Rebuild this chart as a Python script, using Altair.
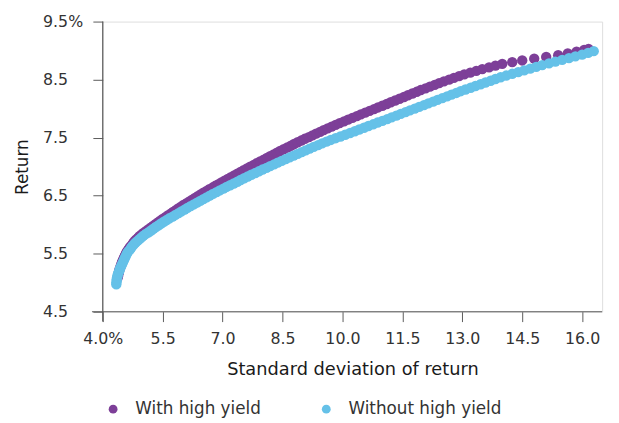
import altair as alt
import pandas as pd

# With high yield (purple): standard deviation and return
hy_sd = [4.37, 4.38, 4.39, 4.40, 4.41, 4.42, 4.44, 4.45, 4.47, 4.48, 4.50,
         4.52, 4.54, 4.56, 4.58, 4.60, 4.63, 4.66, 4.69, 4.73, 4.76, 4.79,
         4.83, 4.88, 4.92, 4.97, 5.02, 5.08, 5.14, 5.20, 5.26, 5.32, 5.38,
         5.44, 5.50, 5.57, 5.63, 5.70, 5.76, 5.83, 5.89, 5.96, 6.02, 6.10,
         6.17, 6.24, 6.31, 6.38, 6.45, 6.52, 6.60, 6.67, 6.75, 6.82, 6.90,
         6.97, 7.05, 7.13, 7.21, 7.29, 7.37, 7.45, 7.53, 7.61, 7.69, 7.78,
         7.86, 7.94, 8.03, 8.11, 8.19, 8.28, 8.36, 8.44, 8.53, 8.62, 8.71,
         8.79, 8.88, 8.97, 9.06, 9.16, 9.25, 9.34, 9.44, 9.53, 9.63, 9.73,
         9.83, 9.93, 10.04, 10.14, 10.25, 10.36, 10.46, 10.57, 10.68, 10.79,
         10.89, 11.00, 11.11, 11.21, 11.32, 11.43, 11.54, 11.64, 11.75, 11.86,
         11.96, 12.08, 12.19, 12.31, 12.42, 12.54, 12.67, 12.79, 12.92, 13.05,
         13.20, 13.35, 13.50, 13.67, 13.83, 14.00, 14.25, 14.50, 14.80, 15.10,
         15.40, 15.64, 15.86, 16.05, 16.16]
hy_ret = [5.08, 5.11, 5.14, 5.17, 5.20, 5.23, 5.26, 5.29, 5.32, 5.35, 5.38,
          5.41, 5.44, 5.47, 5.50, 5.53, 5.56, 5.59, 5.62, 5.65, 5.68, 5.71,
          5.74, 5.77, 5.80, 5.83, 5.86, 5.89, 5.92, 5.95, 5.98, 6.01, 6.04,
          6.07, 6.10, 6.13, 6.16, 6.19, 6.22, 6.25, 6.28, 6.31, 6.34, 6.37,
          6.40, 6.43, 6.46, 6.49, 6.52, 6.55, 6.58, 6.61, 6.64, 6.67, 6.70,
          6.73, 6.76, 6.79, 6.82, 6.85, 6.88, 6.91, 6.94, 6.97, 7.00, 7.03,
          7.06, 7.09, 7.12, 7.15, 7.18, 7.21, 7.24, 7.27, 7.30, 7.33, 7.36,
          7.39, 7.42, 7.45, 7.48, 7.51, 7.54, 7.57, 7.60, 7.63, 7.66, 7.69,
          7.72, 7.75, 7.78, 7.81, 7.84, 7.87, 7.90, 7.93, 7.96, 7.99,
          8.02, 8.05, 8.08, 8.11, 8.14, 8.17, 8.20, 8.23, 8.26, 8.29,
          8.32, 8.35, 8.38, 8.41, 8.44, 8.47, 8.50, 8.53, 8.56, 8.59,
          8.62, 8.65, 8.68, 8.71, 8.74, 8.77, 8.80, 8.83, 8.86, 8.89,
          8.92, 8.95, 8.98, 9.01, 9.03]

# Without high yield (light blue)
nohy_sd = [4.34, 4.34, 4.35, 4.35, 4.36, 4.37, 4.38, 4.40, 4.42, 4.43, 4.45,
           4.47, 4.49, 4.51, 4.53, 4.55, 4.57, 4.59, 4.61, 4.64, 4.68, 4.71,
           4.74, 4.78, 4.82, 4.87, 4.92, 4.97, 5.02, 5.08, 5.15, 5.21, 5.27,
           5.33, 5.40, 5.46, 5.53, 5.60, 5.67, 5.75, 5.82, 5.90, 5.97, 6.05,
           6.12, 6.20, 6.28, 6.36, 6.44, 6.52, 6.60, 6.68, 6.76, 6.85, 6.93,
           7.02, 7.10, 7.19, 7.28, 7.37, 7.45, 7.54, 7.63, 7.72, 7.82, 7.91,
           8.00, 8.10, 8.19, 8.29, 8.38, 8.48, 8.58, 8.68, 8.78, 8.88, 8.98,
           9.08, 9.18, 9.28, 9.39, 9.49, 9.60, 9.71, 9.83, 9.95, 10.07, 10.19,
           10.31, 10.42, 10.54, 10.65, 10.77, 10.88, 11.00, 11.12, 11.23, 11.35,
           11.46, 11.58, 11.69, 11.81, 11.92, 12.04, 12.15, 12.27, 12.38, 12.50,
           12.62, 12.73, 12.85, 12.96, 13.08, 13.21, 13.33, 13.46, 13.58, 13.71,
           13.83, 13.96, 14.10, 14.25, 14.40, 14.55, 14.70, 14.85, 15.00, 15.17,
           15.33, 15.50, 15.67, 15.83, 16.00, 16.15, 16.29]
nohy_ret = [4.97, 5.00, 5.03, 5.06, 5.09, 5.12, 5.15, 5.18, 5.21, 5.24, 5.27,
            5.30, 5.33, 5.36, 5.39, 5.42, 5.45, 5.48, 5.51, 5.54, 5.57, 5.60,
            5.63, 5.66, 5.69, 5.72, 5.75, 5.78, 5.81, 5.84, 5.87, 5.90, 5.93,
            5.96, 5.99, 6.02, 6.05, 6.08, 6.11, 6.14, 6.17, 6.20, 6.23, 6.26,
            6.29, 6.32, 6.35, 6.38, 6.41, 6.44, 6.47, 6.50, 6.53, 6.56, 6.59,
            6.62, 6.65, 6.68, 6.71, 6.74, 6.77, 6.80, 6.83, 6.86, 6.89, 6.92,
            6.95, 6.98, 7.01, 7.04, 7.07, 7.10, 7.13, 7.16, 7.19, 7.22, 7.25,
            7.28, 7.31, 7.34, 7.37, 7.40, 7.43, 7.46, 7.49, 7.52, 7.55, 7.58,
            7.61, 7.64, 7.67, 7.70, 7.73, 7.76, 7.79, 7.82, 7.85, 7.88,
            7.91, 7.94, 7.97, 8.00, 8.03, 8.06, 8.09, 8.12, 8.15, 8.18,
            8.21, 8.24, 8.27, 8.30, 8.33, 8.36, 8.39, 8.42, 8.45, 8.48,
            8.51, 8.54, 8.57, 8.60, 8.63, 8.66, 8.69, 8.72, 8.75, 8.78,
            8.81, 8.84, 8.87, 8.90, 8.93, 8.96, 8.99]

series_names = ["With high yield", "Without high yield"]
series_colors = ["#7d3f98", "#65c1e8"]

x_ticks = [4.0, 5.5, 7.0, 8.5, 10.0, 11.5, 13.0, 14.5, 16.0]
y_ticks = [4.5, 5.5, 6.5, 7.5, 8.5, 9.5]
x_domain = [4.0, 16.5]
y_domain = [4.5, 9.5]
# axis lines (drawn slightly past the crossing point, as in the original)
x_axis_line = {"x": 3.73, "x2": 16.5, "y": 4.5}
y_axis_line = {"x": 4.0, "y": 4.33, "y2": 9.5}

df = pd.concat([
    pd.DataFrame({"sd": hy_sd, "ret": hy_ret, "series": series_names[0], "order": 0}),
    pd.DataFrame({"sd": nohy_sd, "ret": nohy_ret, "series": series_names[1], "order": 1}),
], ignore_index=True)

FONT = "DejaVu Sans"
AXIS_COLOR = "#5a5a5a"

xscale = alt.Scale(domain=x_domain, nice=False, zero=False)
yscale = alt.Scale(domain=y_domain, nice=False, zero=False)

points = alt.Chart(df).mark_circle(size=110, opacity=1).encode(
    x=alt.X("sd:Q", scale=xscale,
            axis=alt.Axis(values=x_ticks, domain=False, tickSize=10, tickColor=AXIS_COLOR,
                          tickWidth=1, grid=False,
                          labelExpr="datum.value == 4 ? '4.0%' : format(datum.value, '.1f')",
                          labelFont=FONT, labelFontSize=16, labelColor="#333333",
                          labelPadding=9, labelFlush=False,
                          title="Standard deviation of return", titleFont=FONT,
                          titleFontSize=18, titleFontWeight="normal", titleColor="#1a1a1a",
                          titleX=253, titleY=59, titleBaseline="middle", titleAlign="center")),
    y=alt.Y("ret:Q", scale=yscale,
            axis=alt.Axis(values=y_ticks, domain=False, tickSize=10, tickColor=AXIS_COLOR,
                          tickWidth=1, grid=False,
                          labelExpr="datum.value == 9.5 ? '9.5%' : format(datum.value, '.1f')",
                          labelFont=FONT, labelFontSize=16, labelColor="#333333",
                          labelAlign="left", labelBaseline="middle", labelPadding=51,
                          labelFlush=False,
                          title="Return", titleFont=FONT, titleFontSize=17,
                          titleFontWeight="normal", titleColor="#1a1a1a",
                          titleX=-81, titleY=147, titleAngle=270,
                          titleAlign="center", titleBaseline="middle")),
    color=alt.Color("series:N",
                    scale=alt.Scale(domain=series_names, range=series_colors),
                    legend=alt.Legend(title=None, orient="none", direction="horizontal",
                                      legendX=2, legendY=384, symbolType="circle",
                                      symbolSize=80, symbolStrokeWidth=0,
                                      labelFont=FONT, labelFontSize=17, labelColor="#333333",
                                      labelOffset=14, columnPadding=57, padding=0)),
    order=alt.Order("order:Q"),
)

xline = alt.Chart(pd.DataFrame([x_axis_line])).mark_rule(color=AXIS_COLOR, strokeWidth=1.2).encode(
    x=alt.X("x:Q", scale=xscale), x2="x2:Q", y=alt.Y("y:Q", scale=yscale))
yline = alt.Chart(pd.DataFrame([y_axis_line])).mark_rule(color=AXIS_COLOR, strokeWidth=1.2).encode(
    x=alt.X("x:Q", scale=xscale), y=alt.Y("y:Q", scale=yscale), y2="y2:Q")

chart = alt.layer(xline, yline, points).properties(
    width=506, height=294,
    autosize=alt.AutoSizeParams(type="none"),
    padding={"left": 96, "top": 11, "right": 9, "bottom": 110},
).configure_view(stroke=None).configure(background="white")

chart.save("out.html", embed_options={"renderer": "svg", "actions": False})
